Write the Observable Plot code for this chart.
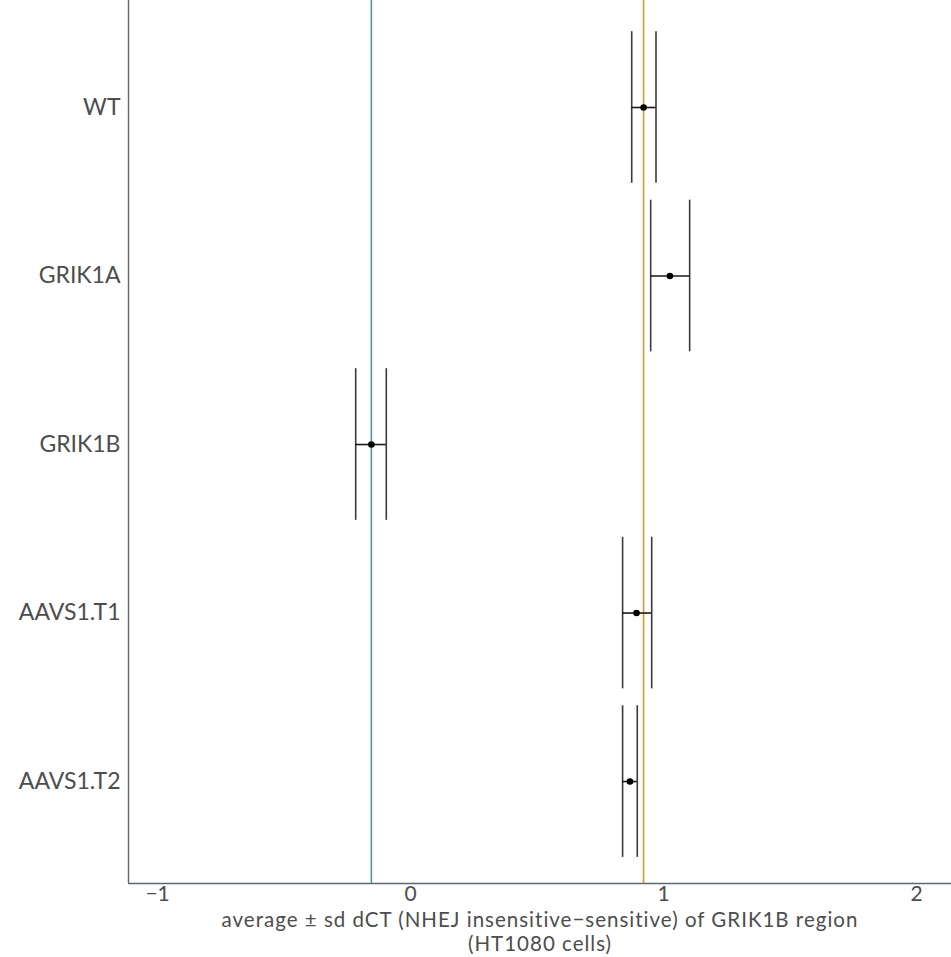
<!DOCTYPE html>
<html>
<head>
<meta charset="utf-8">
<script src="https://cdn.jsdelivr.net/npm/d3@7"></script>
<script src="https://cdn.jsdelivr.net/npm/@observablehq/plot@0.6"></script>
<style>
  html, body { margin: 0; padding: 0; background: #ffffff; }
</style>
</head>
<body>
<div id="chart"></div>
<script>
const categories = ["WT", "GRIK1A", "GRIK1B", "AAVS1.T1", "AAVS1.T2"];
const means = [0.921, 1.025, -0.155, 0.893, 0.867];
const lows  = [0.874, 0.949, -0.217, 0.838, 0.838];
const highs = [0.970, 1.103, -0.096, 0.953, 0.896];
const refValues = [-0.155, 0.921];
const refColors = ["#45a094", "#d49c30"];
const xTicks = [-1, 0, 1, 2];
const xTitleLines = ["average ± sd dCT (NHEJ insensitive\u2212sensitive) of GRIK1B region", "(HT1080 cells)"];

const rows = categories.map((c, i) => ({cat: c, i, mean: means[i], lo: lows[i], hi: highs[i]}));
const refs = refValues.map((v, k) => ({v, color: refColors[k]}));

const xMin = -1.115, xMax = 2.138;
const yTop = -0.635, yBottom = 4.605;
const titleSize = 20.5;

const chart = Plot.plot({
  width: 951,
  height: 957,
  marginLeft: 128,
  marginRight: 0,
  marginTop: 0,
  marginBottom: 74,
  style: {fontFamily: "Lato, sans-serif", fontSize: "23px", color: "#4d4d4d", background: "#ffffff"},
  x: {domain: [xMin, xMax], label: null},
  y: {domain: [yTop, yBottom], reverse: true, label: null},
  marks: [
    Plot.ruleX(refs, {x: "v", stroke: "color", strokeWidth: 1.6}),
    Plot.ruleX(rows, {x: "lo", y1: d => d.i - 0.45, y2: d => d.i + 0.45, stroke: "#3a3a3a", strokeWidth: 1.6}),
    Plot.ruleX(rows, {x: "hi", y1: d => d.i - 0.45, y2: d => d.i + 0.45, stroke: "#3a3a3a", strokeWidth: 1.6}),
    Plot.ruleY(rows, {y: "i", x1: "lo", x2: "hi", stroke: "#1a1a1a", strokeWidth: 1.6}),
    Plot.dot(rows, {x: "mean", y: "i", r: 3.3, fill: "#000000", stroke: "none"}),
    Plot.ruleX([xMin], {stroke: "#5e6870", strokeWidth: 1.4}),
    Plot.ruleY([yBottom], {stroke: "#5e6870", strokeWidth: 1.4}),
    Plot.axisY({ticks: d3.range(categories.length), tickFormat: i => categories[i], tickSize: 0, tickPadding: 8, label: null, fontSize: 23}),
    Plot.axisX({ticks: xTicks, tickFormat: d => d < 0 ? "\u2212" + Math.abs(d) : String(d), tickSize: 0, tickPadding: 3, label: null, fontSize: 21}),
    Plot.text([xTitleLines[0]], {text: d => d, frameAnchor: "bottom", lineAnchor: "top", dy: 43 - 0.71 * titleSize, fontSize: titleSize, fill: "#4d4d4d", ariaLabel: () => "xtitle"}),
    Plot.text([xTitleLines[1]], {text: d => d, frameAnchor: "bottom", lineAnchor: "top", dy: 67.5 - 0.71 * titleSize, fontSize: titleSize, fill: "#4d4d4d", ariaLabel: () => "xtitle"})
  ]
});
d3.select(chart).selectAll('[aria-label="xtitle"]').attr("letter-spacing", "1px").style("letter-spacing", "1px");
document.getElementById("chart").appendChild(chart);
</script>
</body>
</html>
